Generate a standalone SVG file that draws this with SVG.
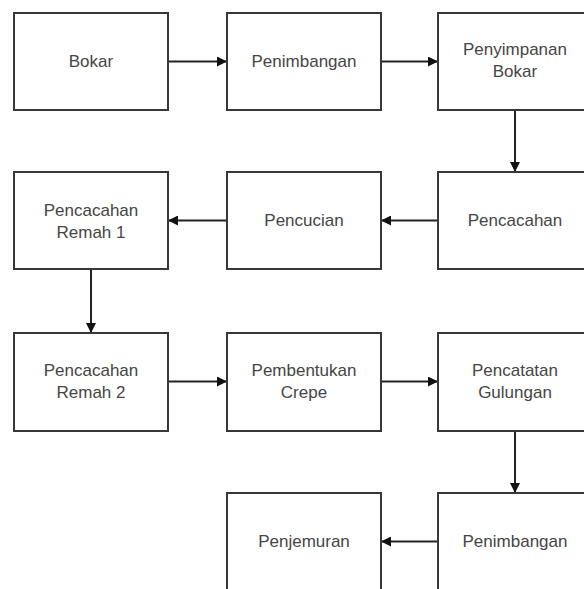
<svg xmlns="http://www.w3.org/2000/svg" width="584" height="589" viewBox="0 0 584 589">
<style>
.box{fill:#fff;stroke:#383838;stroke-width:2}
.t{font-family:"Liberation Sans",Arial,sans-serif;font-size:17px;fill:#454545;text-anchor:middle}
.c{stroke:#222;stroke-width:2;fill:none}
</style>
<defs>
<marker id="ah" viewBox="0 0 10 10" refX="10" refY="5" markerWidth="10" markerHeight="10" markerUnits="userSpaceOnUse" orient="auto">
<path d="M0,0 L10,5 L0,10 Z" fill="#111"/>
</marker>
</defs>
<rect width="584" height="589" fill="#fff"/>
<g id="connectors">
<line class="c" x1="168" y1="61.5" x2="227" y2="61.5" marker-end="url(#ah)"/>
<line class="c" x1="381" y1="61.5" x2="438" y2="61.5" marker-end="url(#ah)"/>
<line class="c" x1="515" y1="110" x2="515" y2="172" marker-end="url(#ah)"/>
<line class="c" x1="438" y1="220.5" x2="381" y2="220.5" marker-end="url(#ah)"/>
<line class="c" x1="227" y1="220.5" x2="168" y2="220.5" marker-end="url(#ah)"/>
<line class="c" x1="91" y1="270" x2="91" y2="333" marker-end="url(#ah)"/>
<line class="c" x1="168" y1="381.5" x2="227" y2="381.5" marker-end="url(#ah)"/>
<line class="c" x1="381" y1="381.5" x2="438" y2="381.5" marker-end="url(#ah)"/>
<line class="c" x1="515" y1="431" x2="515" y2="493" marker-end="url(#ah)"/>
<line class="c" x1="438" y1="541.5" x2="381" y2="541.5" marker-end="url(#ah)"/>
</g>
<g id="n1"><rect class="box" x="14" y="13" width="154" height="97"/><text class="t" x="91" y="67">Bokar</text></g>
<g id="n2"><rect class="box" x="227" y="13" width="154" height="97"/><text class="t" x="304" y="67">Penimbangan</text></g>
<g id="n3"><rect class="box" x="438" y="13" width="154" height="97"/><text class="t" x="515" y="55">Penyimpanan</text><text class="t" x="515" y="77">Bokar</text></g>
<g id="n4"><rect class="box" x="438" y="172" width="154" height="97"/><text class="t" x="515" y="226">Pencacahan</text></g>
<g id="n5"><rect class="box" x="227" y="172" width="154" height="97"/><text class="t" x="304" y="226">Pencucian</text></g>
<g id="n6"><rect class="box" x="14" y="172" width="154" height="97"/><text class="t" x="91" y="216">Pencacahan</text><text class="t" x="91" y="238">Remah 1</text></g>
<g id="n7"><rect class="box" x="14" y="333" width="154" height="98"/><text class="t" x="91" y="376">Pencacahan</text><text class="t" x="91" y="398">Remah 2</text></g>
<g id="n8"><rect class="box" x="227" y="333" width="154" height="98"/><text class="t" x="304" y="376">Pembentukan</text><text class="t" x="304" y="398">Crepe</text></g>
<g id="n9"><rect class="box" x="438" y="333" width="154" height="98"/><text class="t" x="515" y="376">Pencatatan</text><text class="t" x="515" y="398">Gulungan</text></g>
<g id="n10"><rect class="box" x="438" y="493" width="154" height="100"/><text class="t" x="515" y="547">Penimbangan</text></g>
<g id="n11"><rect class="box" x="227" y="493" width="154" height="100"/><text class="t" x="304" y="547">Penjemuran</text></g>
</svg>
